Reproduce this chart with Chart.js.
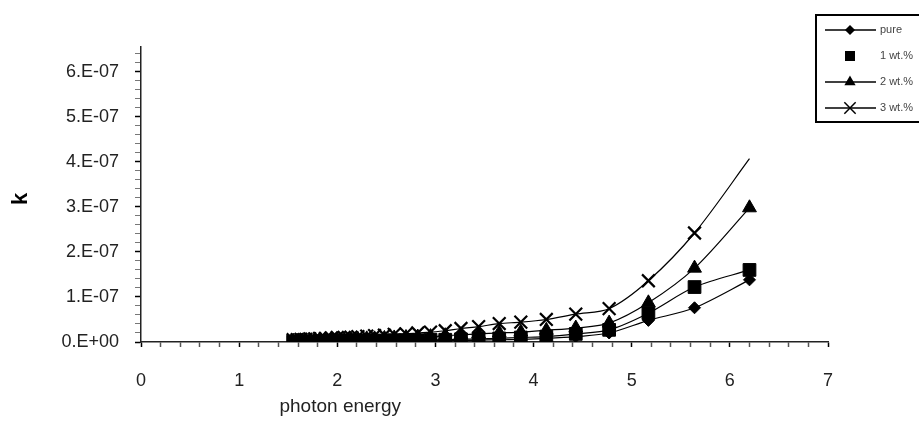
<!DOCTYPE html>
<html>
<head>
<meta charset="utf-8">
<script src="https://cdn.jsdelivr.net/npm/chart.js@4.4.1/dist/chart.umd.min.js"></script>
<style>
    html, body { margin: 0; padding: 0; background: #fff; }
    #wrap { width: 919px; height: 424px; position: relative; }
</style>
</head>
<body>
<div id="wrap"><canvas id="chartK"></canvas></div>
<script>
        // photon energy (eV), one point per 20 nm from 800 nm down to 200 nm
        const energy = [1.55, 1.59, 1.63, 1.68, 1.72, 1.77, 1.82, 1.88, 1.94, 2.00, 2.07,
            2.14, 2.21, 2.30, 2.38, 2.48, 2.58, 2.70, 2.82, 2.95, 3.10,
            3.26, 3.44, 3.65, 3.87, 4.13, 4.43, 4.77, 5.17, 5.64, 6.20];

        const kPure = [0, 0, 0, 0.1e-8, 0.1e-8, 0.1e-8, 0.1e-8, 0.1e-8, 0.1e-8, 0.1e-8, 0.2e-8,
            0.2e-8, 0.2e-8, 0.2e-8, 0.2e-8, 0.2e-8, 0.2e-8, 0.2e-8, 0.2e-8, 0.3e-8, 0.3e-8,
            0.3e-8, 0.4e-8, 0.5e-8, 0.6e-8, 0.8e-8, 1.2e-8, 2.0e-8, 4.8e-8, 7.6e-8, 13.8e-8];
        const k1wt = [0.1e-8, 0.1e-8, 0.1e-8, 0.1e-8, 0.1e-8, 0.1e-8, 0.2e-8, 0.2e-8, 0.2e-8, 0.2e-8, 0.2e-8,
            0.3e-8, 0.3e-8, 0.3e-8, 0.3e-8, 0.3e-8, 0.4e-8, 0.4e-8, 0.4e-8, 0.5e-8, 0.5e-8,
            0.6e-8, 0.7e-8, 0.8e-8, 1.0e-8, 1.2e-8, 1.8e-8, 2.7e-8, 6.4e-8, 12.2e-8, 16.0e-8];
        const k2wt = [0.2e-8, 0.2e-8, 0.2e-8, 0.3e-8, 0.3e-8, 0.3e-8, 0.4e-8, 0.4e-8, 0.4e-8, 0.5e-8, 0.5e-8,
            0.6e-8, 0.6e-8, 0.7e-8, 0.7e-8, 0.8e-8, 0.9e-8, 1.0e-8, 1.1e-8, 1.2e-8, 1.4e-8,
            1.6e-8, 1.8e-8, 2.0e-8, 2.2e-8, 2.6e-8, 3.1e-8, 4.2e-8, 8.7e-8, 16.4e-8, 29.8e-8];
        const k3wt = [0.5e-8, 0.5e-8, 0.6e-8, 0.6e-8, 0.7e-8, 0.7e-8, 0.8e-8, 0.8e-8, 0.9e-8, 1.0e-8, 1.0e-8,
            1.1e-8, 1.2e-8, 1.3e-8, 1.4e-8, 1.5e-8, 1.7e-8, 1.8e-8, 2.0e-8, 2.2e-8, 2.5e-8,
            3.0e-8, 3.4e-8, 4.1e-8, 4.4e-8, 5.0e-8, 6.2e-8, 7.4e-8, 13.6e-8, 24.2e-8, 40.7e-8];

        const seriesNames = ['pure', '1 wt.%', '2 wt.%', '3 wt.%'];
        const yMajorLabels = ['0.E+00', '1.E-07', '2.E-07', '3.E-07', '4.E-07', '5.E-07', '6.E-07'];
        const xMajorLabels = ['0', '1', '2', '3', '4', '5', '6', '7'];
        const legendHasLine = [true, false, true, true];

        const tickFont = { family: '"Liberation Sans", Arial, sans-serif', size: 18 };

        function isMajor(v, unit) {
            return Math.abs(v / unit - Math.round(v / unit)) < 1e-6;
        }

        function series(values) {
            return energy.map((e, i) => ({ x: e, y: values[i] }));
        }

        // axis titles placed where the original had them
        const axisTitles = {
            id: 'axisTitles',
            afterDraw(chart) {
                const ctx = chart.ctx;
                const xs = chart.scales.x;
                ctx.save();
                ctx.fillStyle = '#222';
                ctx.textAlign = 'center';
                ctx.textBaseline = 'middle';
                ctx.font = '19px "Liberation Sans", Arial, sans-serif';
                ctx.fillText('photon energy', xs.getPixelForValue(2.03), 407);
                ctx.translate(21, 199);
                ctx.rotate(-Math.PI / 2);
                ctx.font = 'bold 22px "Liberation Sans", Arial, sans-serif';
                ctx.fillStyle = '#000';
                ctx.fillText('k', 0, 0);
                ctx.restore();
            }
        };

        // boxed legend at the top right, cut by the canvas edge
        const boxLegend = {
            id: 'boxLegend',
            afterDraw(chart) {
                const ctx = chart.ctx;
                ctx.save();
                ctx.strokeStyle = '#000';
                ctx.lineWidth = 2;
                ctx.strokeRect(816, 15, 140, 107);
                ctx.font = '11px "Liberation Sans", Arial, sans-serif';
                ctx.textBaseline = 'middle';
                chart.data.datasets.forEach((ds, i) => {
                    const y = 30 + i * 26;
                    ctx.strokeStyle = '#000';
                    ctx.fillStyle = '#000';
                    if (legendHasLine[i]) {
                        ctx.lineWidth = 1.5;
                        ctx.beginPath();
                        ctx.moveTo(825, y);
                        ctx.lineTo(876, y);
                        ctx.stroke();
                    }
                    Chart.helpers.drawPoint(ctx, {
                        pointStyle: ds.pointStyle,
                        radius: ds.legendRadius,
                        borderWidth: ds.pointBorderWidth,
                        rotation: 0
                    }, 850, y);
                    ctx.fillStyle = '#444';
                    ctx.fillText(ds.label, 880, y);
                });
                ctx.restore();
            }
        };

        function makeDataset(label, values, style, radius, legendRadius, borderW) {
            return {
                label,
                data: series(values),
                pointStyle: style,
                pointRadius: radius,
                legendRadius,
                pointBorderWidth: borderW,
                borderColor: '#000',
                backgroundColor: '#000',
                pointBackgroundColor: '#000',
                pointBorderColor: '#000',
                borderWidth: 1.2,
                tension: 0.3,
                showLine: true,
                fill: false
            };
        }

        const ctx = document.getElementById('chartK').getContext('2d');
        new Chart(ctx, {
            type: 'scatter',
            data: {
                datasets: [
                    makeDataset(seriesNames[0], kPure, 'rectRot', 6, 4, 1),
                    makeDataset(seriesNames[1], k1wt, 'rect', 9, 6, 1),
                    makeDataset(seriesNames[2], k2wt, 'triangle', 8, 5, 1),
                    Object.assign(makeDataset(seriesNames[3], k3wt, 'crossRot', 9, 8, 2.2), {
                        pointRadius: c => (c.dataIndex === energy.length - 1 ? 0 : 9)
                    })
                ]
            },
            options: {
                responsive: true,
                maintainAspectRatio: false,
                animation: false,
                layout: { padding: { top: 47, right: 91, left: 0, bottom: 0 } },
                plugins: {
                    legend: { display: false },
                    title: { display: false },
                    tooltip: { enabled: false }
                },
                scales: {
                    x: {
                        type: 'linear',
                        min: 0,
                        max: 7,
                        afterFit: s => { s.height = 82; },
                        afterBuildTicks: s => {
                            const t = [];
                            for (let i = 0; i <= 35; i++) t.push({ value: i * 0.2 });
                            s.ticks = t;
                        },
                        ticks: {
                            autoSkip: false,
                            maxRotation: 0,
                            padding: 23,
                            color: '#222',
                            font: tickFont,
                            callback: v => (isMajor(v, 1) ? xMajorLabels[Math.round(v)] : '')
                        },
                        grid: {
                            drawOnChartArea: false,
                            tickLength: 5,
                            tickColor: c => (isMajor(c.tick.value, 1) ? '#000' : '#555'),
                            tickWidth: 1.5
                        },
                        border: { color: '#222', width: 1.5 }
                    },
                    y: {
                        type: 'linear',
                        min: 0,
                        max: 6.55e-7,
                        afterFit: s => { s.width = 141; },
                        afterBuildTicks: s => {
                            const t = [];
                            for (let i = 0; i <= 32; i++) t.push({ value: i * 0.2e-7 });
                            s.ticks = t;
                        },
                        ticks: {
                            autoSkip: false,
                            padding: 16,
                            color: '#222',
                            font: tickFont,
                            callback: v => (isMajor(v, 1e-7) ? yMajorLabels[Math.round(v / 1e-7)] : '')
                        },
                        grid: {
                            drawOnChartArea: false,
                            tickLength: 6,
                            tickColor: c => (isMajor(c.tick.value, 1e-7) ? '#000' : '#777'),
                            tickWidth: c => (isMajor(c.tick.value, 1e-7) ? 1.5 : 1)
                        },
                        border: { color: '#222', width: 1.5 }
                    }
                }
            },
            plugins: [axisTitles, boxLegend]
        });
</script>
</body>
</html>
